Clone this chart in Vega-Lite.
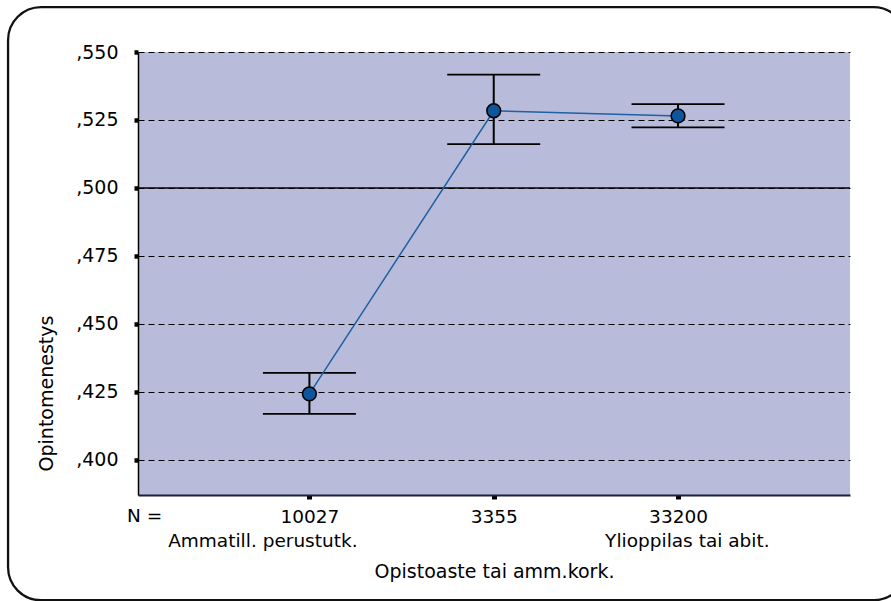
{
  "$schema": "https://vega.github.io/schema/vega-lite/v6.json",
  "width": 712,
  "height": 443,
  "autosize": {"type": "none"},
  "padding": {"left": 138, "top": 52, "right": 41, "bottom": 106},
  "background": "white",
  "config": {
    "view": {"fill": "#b8bcda", "stroke": null},
    "font": "DejaVu Sans"
  },
  "data": {
    "values": [
      {"pos": 1, "n": "10027", "group": "Ammatill. perustutk.", "mean": 0.4243, "lo": 0.4169, "hi": 0.4320},
      {"pos": 2, "n": "3355", "group": "", "mean": 0.5284, "lo": 0.5161, "hi": 0.5417},
      {"pos": 3, "n": "33200", "group": "Ylioppilas tai abit.", "mean": 0.5265, "lo": 0.5223, "hi": 0.5308}
    ]
  },
  "layer": [
    {
      "mark": {"type": "rule", "color": "black", "strokeWidth": 2},
      "encoding": {
        "x": {
          "field": "pos",
          "type": "quantitative",
          "scale": {"domain": [0.07, 3.933], "nice": false, "zero": false},
          "axis": {
            "orient": "bottom",
            "values": [1, 2, 3],
            "labelExpr": "datum.value == 1 ? ['10027', 'Ammatill. perustutk.\u00a0\u00a0\u00a0\u00a0\u00a0\u00a0\u00a0\u00a0\u00a0\u00a0\u00a0\u00a0\u00a0\u00a0\u00a0\u00a0\u200b'] : datum.value == 2 ? ['3355', ''] : ['33200', '\u200b\u00a0\u00a0\u00a0Ylioppilas tai abit.']",
            "title": "Opistoaste tai amm.kork.",
            "grid": false,
            "domainColor": "#1a1f3a",
            "domainWidth": 2.2,
            "tickColor": "black",
            "tickSize": 4,
            "tickWidth": 5,
            "labelFontSize": 18.5,
            "labelLineHeight": 24,
            "labelPadding": 8,
            "labelLimit": 500,
            "labelColor": "black",
            "labelFlush": false,
            "labelOverlap": false,
            "titleFontSize": 19,
            "titleFontWeight": "normal",
            "titleColor": "black",
            "titlePadding": 13
          }
        },
        "y": {
          "field": "lo",
          "type": "quantitative",
          "scale": {"domain": [0.3871, 0.55], "nice": false, "zero": false},
          "axis": {
            "values": [0.4, 0.425, 0.45, 0.475, 0.5, 0.525, 0.55],
            "labelExpr": "',' + substring(format(datum.value, '.3f'), 2)",
            "grid": true,
            "gridColor": "black",
            "gridDash": [6, 4],
            "gridWidth": 1.2,
            "gridOpacity": 1,
            "domainColor": "black",
            "domainWidth": 1.5,
            "tickColor": "black",
            "tickSize": 4,
            "tickWidth": 4.5,
            "labelPadding": 16,
            "labelFontSize": 19,
            "labelColor": "black",
            "labelFlush": false,
            "labelOverlap": false,
            "title": "Opintomenestys",
            "titleFontSize": 19,
            "titleFontWeight": "normal",
            "titleColor": "black",
            "titleX": -92,
            "titleY": 341,
            "titleBaseline": "middle",
            "titleAlign": "center"
          }
        },
        "y2": {"field": "hi"}
      }
    },
    {
      "data": {"values": [{}]},
      "mark": {"type": "rule", "color": "black", "strokeWidth": 1.5},
      "encoding": {"y": {"datum": 0.5}}
    },
    {
      "mark": {"type": "tick", "orient": "horizontal", "size": 93, "thickness": 1.8, "color": "black", "opacity": 1},
      "encoding": {
        "x": {"field": "pos", "type": "quantitative"},
        "y": {"field": "lo", "type": "quantitative"}
      }
    },
    {
      "mark": {"type": "tick", "orient": "horizontal", "size": 93, "thickness": 1.8, "color": "black", "opacity": 1},
      "encoding": {
        "x": {"field": "pos", "type": "quantitative"},
        "y": {"field": "hi", "type": "quantitative"}
      }
    },
    {
      "mark": {"type": "line", "color": "#1f5fa3", "strokeWidth": 1.5},
      "encoding": {
        "x": {"field": "pos", "type": "quantitative"},
        "y": {"field": "mean", "type": "quantitative"}
      }
    },
    {
      "mark": {"type": "point", "shape": "circle", "filled": true, "fill": "#0f559b", "stroke": "black", "strokeWidth": 1.5, "size": 190, "opacity": 1},
      "encoding": {
        "x": {"field": "pos", "type": "quantitative"},
        "y": {"field": "mean", "type": "quantitative"}
      }
    },
    {
      "data": {"values": [{}]},
      "mark": {"type": "text", "baseline": "top", "align": "center", "dy": 12, "fontSize": 18.5, "color": "black"},
      "encoding": {
        "x": {"datum": 0.106},
        "y": {"datum": 0.3871},
        "text": {"value": "N ="}
      }
    },
    {
      "data": {"values": [{}]},
      "mark": {"type": "rect", "clip": false, "filled": false, "stroke": "#111111", "strokeWidth": 2.3, "cornerRadius": 33},
      "encoding": {
        "x": {"datum": -0.635},
        "x2": {"datum": 4.24},
        "y": {"datum": 0.5665},
        "y2": {"datum": 0.3484}
      }
    }
  ]
}
